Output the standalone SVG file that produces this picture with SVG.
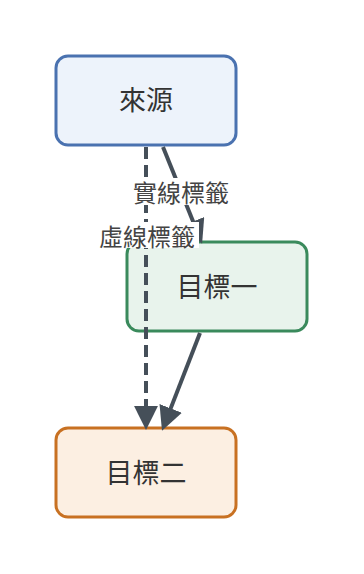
<svg xmlns="http://www.w3.org/2000/svg" width="364" height="574" viewBox="0 0 364 574">
<defs>
<style>
.node rect{stroke-width:3}
.ntext{font-family:"Noto Sans CJK TC","Noto Sans CJK SC",sans-serif;font-size:27px;fill:#333;text-anchor:middle;dominant-baseline:central}
.edge{stroke:#454f59;stroke-width:4;fill:none}
.dashed{stroke-dasharray:12 6}
.lbg{fill:#fff}
.ltext{font-family:"Noto Sans CJK TC","Noto Sans CJK SC",sans-serif;font-size:24px;fill:#444;text-anchor:middle;dominant-baseline:central}
</style>
<marker id="arr" markerUnits="userSpaceOnUse" markerWidth="24" markerHeight="24" viewBox="0 0 22 22" refX="1" refY="11" orient="auto">
<path d="M0,0 L22,11 L0,22 z" fill="#454f59"/>
</marker>
</defs>
<rect width="364" height="574" fill="#fff"/>
<g id="n-source" class="node"><rect x="56" y="56" width="180" height="89" rx="12" fill="#edf3fb" stroke="#4a72b0"/><text class="ntext" x="146" y="98">來源</text></g>
<g id="n-target1" class="node"><rect x="127" y="242" width="180" height="89" rx="12" fill="#e8f3ec" stroke="#3a8a5c"/><text class="ntext" x="217" y="285">目標一</text></g>
<g id="n-target2" class="node"><rect x="56" y="428" width="180" height="89" rx="12" fill="#fcefe2" stroke="#c87122"/><text class="ntext" x="146" y="471">目標二</text></g>
<g id="edges">
<line class="edge" x1="163" y1="147" x2="193.5" y2="222.5" marker-end="url(#arr)"/>
<line class="edge dashed" x1="146" y1="147" x2="146" y2="407" marker-end="url(#arr)"/>
<line class="edge" x1="200" y1="333" x2="170.3" y2="409.4" marker-end="url(#arr)"/>
<g id="label-solid"><rect class="lbg" x="131" y="178" width="100" height="27"/><text class="ltext" x="181" y="191">實線標籤</text></g>
<g id="label-dashed"><rect class="lbg" x="96" y="222" width="103" height="26"/><text class="ltext" x="147" y="235">虛線標籤</text></g>
</g>
</svg>
